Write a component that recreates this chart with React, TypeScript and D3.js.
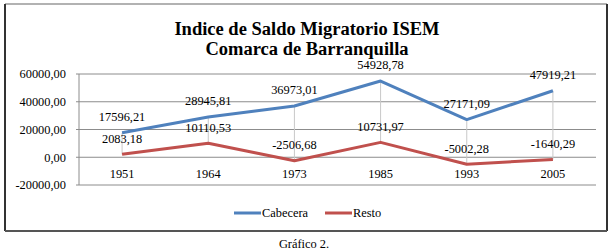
import React from "react";
import * as d3 from "d3";

const categories = ["1951", "1964", "1973", "1985", "1993", "2005"];
const cabecera = [17596.21, 28945.81, 36973.01, 54928.78, 27171.09, 47919.21];
const resto = [2083.18, 10110.53, -2506.68, 10731.97, -5002.28, -1640.29];
const yTicks = [-20000, 0, 20000, 40000, 60000];
const seriesNames = ["Cabecera", "Resto"];
const seriesColors = ["#4F81BD", "#C0504D"];
const titleLines = ["Indice de Saldo Migratorio ISEM", "Comarca de Barranquilla"];
const caption = "Gráfico 2.";

const W = 614;
const H = 250;
const FONT = "'Liberation Serif', 'Tinos', 'Nimbus Roman', 'DejaVu Serif', serif";

const fmt = (v: number) => d3.format(".2f")(v).replace(".", ",").replace("−", "-");

export default function App() {
  const x = d3.scaleBand<string>().domain(categories).range([79, 596]);
  const y = d3.scaleLinear().domain([-20000, 60000]).range([185, 74]);
  const cx = (c: string) => (x(c) as number) + x.bandwidth() / 2;
  const line = d3
    .line<number>()
    .x((_, i) => cx(categories[i]))
    .y((v) => y(v));
  const series = [cabecera, resto];
  const ts = { fontFamily: FONT, fontWeight: 400, fontStyle: "normal" } as React.CSSProperties;

  return (
    <svg
      width={W}
      height={H}
      style={{ position: "absolute", left: 0, top: 0, background: "#fff", fontFamily: FONT }}
    >
      <rect x={0} y={0} width={W} height={H} fill="#fff" />
      {/* frame */}
      <line x1={5} y1={4} x2={607} y2={4} stroke="#999" strokeWidth={1.5} />
      <line x1={5} y1={4} x2={5} y2={231} stroke="#333" strokeWidth={2} />
      <line x1={607} y1={4} x2={607} y2={231} stroke="#333" strokeWidth={2} />
      <line x1={5} y1={231} x2={607} y2={231} stroke="#555" strokeWidth={2} />

      {/* title */}
      {titleLines.map((t, i) => (
        <text
          key={t}
          x={307}
          y={35 + i * 20}
          textAnchor="middle"
          fontSize={18.5}
          fill="#000"
          style={{ fontFamily: FONT, fontWeight: 700 }}
        >
          {t}
        </text>
      ))}

      {/* gridlines */}
      {yTicks.map((t) => (
        <g key={t}>
          <line x1={76} x2={596} y1={y(t)} y2={y(t)} stroke="#8c8c8c" strokeWidth={1} />
          <text x={66} y={y(t)} dy="0.35em" textAnchor="end" fontSize={12.4} fill="#000" style={ts}>
            {fmt(t)}
          </text>
        </g>
      ))}
      <line x1={79} x2={79} y1={y(60000)} y2={y(-20000)} stroke="#8c8c8c" strokeWidth={1} />

      {/* high-low lines */}
      {categories.map((c, i) => (
        <line
          key={c}
          x1={cx(c)}
          x2={cx(c)}
          y1={y(Math.max(cabecera[i], resto[i]))}
          y2={y(Math.min(cabecera[i], resto[i]))}
          stroke="#c8c8c8"
          strokeWidth={1}
        />
      ))}

      {/* category labels */}
      {categories.map((c) => (
        <text key={c} x={cx(c)} y={y(0) + 16} dy="0.35em" textAnchor="middle" fontSize={12.4} style={ts}>
          {c}
        </text>
      ))}

      {/* series lines */}
      {series.map((s, k) => (
        <path
          key={k}
          d={line(s) as string}
          fill="none"
          stroke={seriesColors[k]}
          strokeWidth={3}
          strokeLinejoin="round"
        />
      ))}

      {/* data labels */}
      {series.map((s, k) =>
        s.map((v, i) => (
          <text
            key={`${k}-${i}`}
            x={cx(categories[i])}
            y={y(v) - 16}
            dy="0.35em"
            textAnchor="middle"
            fontSize={12.4}
            style={ts}
          >
            {fmt(v)}
          </text>
        ))
      )}

      {/* legend */}
      {seriesNames.map((n, k) => {
        const lx = k === 0 ? 234 : 325;
        return (
          <g key={n}>
            <line x1={lx} x2={lx + 27} y1={213} y2={213} stroke={seriesColors[k]} strokeWidth={3} />
            <text x={lx + 28} y={213} dy="0.35em" fontSize={12.4} style={ts}>
              {n}
            </text>
          </g>
        );
      })}

      {/* caption */}
      <text x={304} y={248} textAnchor="middle" fontSize={12.4} style={ts}>
        {caption}
      </text>
    </svg>
  );
}
